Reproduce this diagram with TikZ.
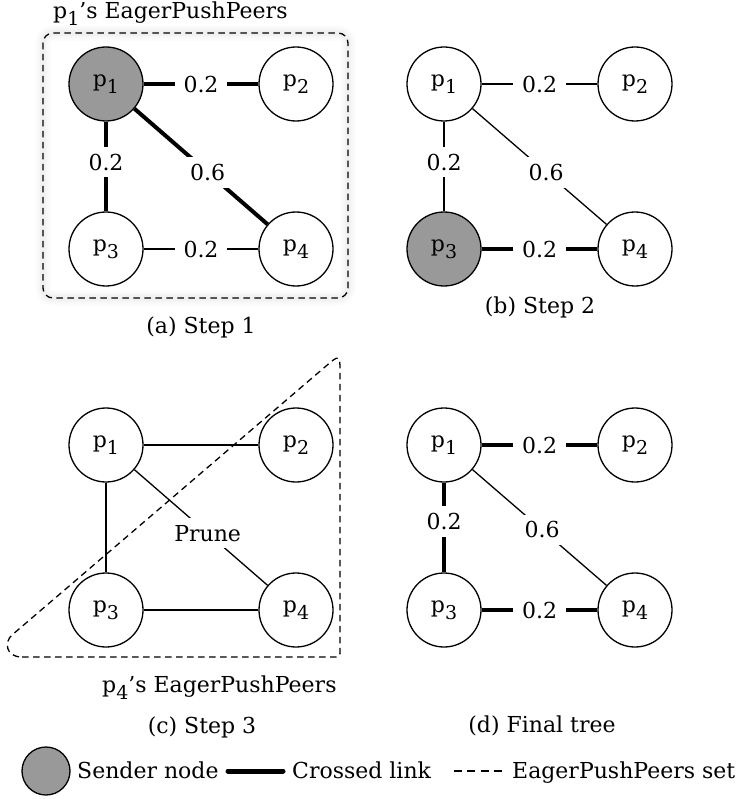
\documentclass[tikz,border=0pt]{standalone}
\usepackage{fontspec}
\setmainfont{DejaVu Serif}
\definecolor{sendergray}{RGB}{153,153,153}
\newcommand{\figfont}{\fontsize{22}{26}\selectfont}
\newcommand{\pidx}[1]{p\raisebox{-7pt}{\fontsize{19}{20}\selectfont #1}}
\tikzset{
  peer/.style={circle, draw, line width=1.3pt, minimum size=74pt, inner sep=0pt, fill=white, font=\figfont},
  sender/.style={peer, fill=sendergray},
  thinlink/.style={line width=1.3pt},
  thicklink/.style={line width=4pt},
  wlabel/.style={fill=white, inner xsep=9pt, inner ysep=7pt, font=\figfont},
  dashset/.style={dash pattern=on 6.5pt off 4.5pt, line width=1.3pt},
  txt/.style={font=\figfont, inner sep=0pt}
}
\begin{document}
\begin{tikzpicture}[x=1pt,y=-1pt]
\useasboundingbox (0,0) rectangle (738,799);
% ---------- (a) ----------
\foreach \w/\o in {16/0.012,11/0.018,6/0.025}
  \draw[line width=\w pt, black, opacity=\o, rounded corners=10pt] (43,33) rectangle (348,298);
\draw[dashset, rounded corners=10pt] (43,33) rectangle (348,298);
\node[txt, anchor=base west] (alab) at (53,18.5) {\pidx{1}'s EagerPushPeers};
\node[sender] (a1) at (106,84) {\pidx{1}};
\node[peer] (a2) at (296,84) {\pidx{2}};
\node[peer] (a3) at (106,249) {\pidx{3}};
\node[peer] (a4) at (296,249) {\pidx{4}};
\draw[thicklink] (a1) -- node[wlabel] {0.2} (a2);
\draw[thicklink] (a1) -- node[wlabel, pos=0.45] {0.2} (a3);
\draw[thicklink] (a1) -- node[wlabel, pos=0.55] {0.6} (a4);
\draw[thinlink] (a3) -- node[wlabel] {0.2} (a4);
\node[txt, anchor=base] (acap) at (201,333) {(a) Step 1};
% ---------- (b) ----------
\node[peer] (b1) at (444,84) {\pidx{1}};
\node[peer] (b2) at (635,84) {\pidx{2}};
\node[sender] (b3) at (444,249) {\pidx{3}};
\node[peer] (b4) at (635,249) {\pidx{4}};
\draw[thinlink] (b1) -- node[wlabel] {0.2} (b2);
\draw[thinlink] (b1) -- node[wlabel, pos=0.45] {0.2} (b3);
\draw[thinlink] (b1) -- node[wlabel, pos=0.55] {0.6} (b4);
\draw[thicklink] (b3) -- node[wlabel] {0.2} (b4);
\node[txt, anchor=base] (bcap) at (540,313) {(b) Step 2};
% ---------- (c) ----------
\draw[dashset] (22,657) -- (332,657) .. controls (340,657) .. (340,649)
  -- (340,374) .. controls (340,354) .. (324.8,367.1)
  -- (12,635) .. controls (4.4,641.5) and (5,657) .. (22,657) -- cycle;
\node[peer] (c1) at (106,445) {\pidx{1}};
\node[peer] (c2) at (296,445) {\pidx{2}};
\node[peer] (c3) at (106,610) {\pidx{3}};
\node[peer] (c4) at (296,610) {\pidx{4}};
\draw[thinlink] (c1) -- (c2);
\draw[thinlink] (c1) -- (c3);
\draw[thinlink] (c3) -- (c4);
\draw[thinlink] (c1) -- node[wlabel, pos=0.55] {Prune} (c4);
\node[txt, anchor=base west] (clab) at (102,692) {\pidx{4}'s EagerPushPeers};
\node[txt, anchor=base] (ccap) at (202,733) {(c) Step 3};
% ---------- (d) ----------
\node[peer] (d1) at (444,445) {\pidx{1}};
\node[peer] (d2) at (635,445) {\pidx{2}};
\node[peer] (d3) at (444,610) {\pidx{3}};
\node[peer] (d4) at (635,610) {\pidx{4}};
\draw[thicklink] (d1) -- node[wlabel] {0.2} (d2);
\draw[thicklink] (d1) -- node[wlabel, pos=0.43] {0.2} (d3);
\draw[thinlink] (d1) -- node[wlabel, pos=0.52] {0.6} (d4);
\draw[thicklink] (d3) -- node[wlabel] {0.2} (d4);
\node[txt, anchor=base] (dcap) at (542,732) {(d) Final tree};
% ---------- legend ----------
\node[sender, minimum size=48pt] (lg) at (46,771) {};
\node[txt, anchor=base west] (lgs) at (77,778) {Sender node};
\coordinate (lt1) at (228,771);
\coordinate (lt2) at (283,771);
\draw[line width=5pt, line cap=round] (lt1) -- (lt2);
\node[txt, anchor=base west] (lgc) at (292,778) {Crossed link};
\coordinate (ld1) at (454,771);
\coordinate (ld2) at (502,771);
\draw[line width=1.3pt, dash pattern=on 8pt off 5.3pt] (ld1) -- (ld2);
\node[txt, anchor=base west] (lge) at (512,778) {EagerPushPeers set};
\end{tikzpicture}
\end{document}
